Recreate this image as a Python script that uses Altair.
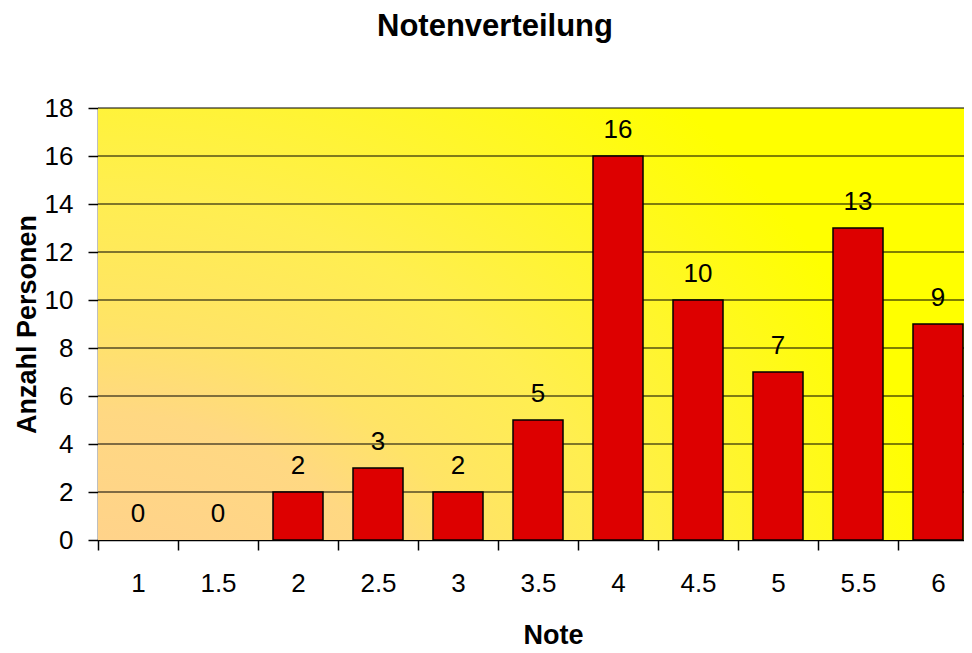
import altair as alt
import pandas as pd

notes = ["1", "1.5", "2", "2.5", "3", "3.5", "4", "4.5", "5", "5.5", "6"]
counts = [0, 0, 2, 3, 2, 5, 16, 10, 7, 13, 9]
y_ticks = [0, 2, 4, 6, 8, 10, 12, 14, 16, 18]
chart_title = "Notenverteilung"
x_title = "Note"
y_title = "Anzahl Personen"

W, H = 880, 432
FONT = "Liberation Sans"

df = pd.DataFrame({"Note": notes, "Anzahl": counts})
grid_df = pd.DataFrame({"Anzahl": y_ticks[1:]})
one_df = pd.DataFrame({"t": [chart_title]})

yscale = alt.Scale(domain=[0, 18], nice=False, zero=True)
xscale = alt.Scale(domain=notes, paddingInner=0, paddingOuter=0)

gradient = alt.RadialGradient(
    gradient="radial",
    x1=0, y1=1, r1=0,
    x2=0, y2=1, r2=1,
    stops=[
        alt.GradientStop(offset=0, color="#FFCA98"),
        alt.GradientStop(offset=0.4, color="#FFD882"),
        alt.GradientStop(offset=0.5, color="#FFE466"),
        alt.GradientStop(offset=0.65, color="#FFEE50"),
        alt.GradientStop(offset=1, color="#FFFF00"),
    ],
)

y_axis = alt.Axis(
    title=y_title,
    values=y_ticks,
    labelFontSize=26,
    labelColor="black",
    labelPadding=15,
    tickSize=10,
    tickColor="black",
    tickWidth=1.5,
    domainColor="black",
    domainWidth=1.5,
    titleFontSize=27,
    titleFontWeight="bold",
    titleColor="black",
    titleX=-71,
    titleY=H / 2,
    titleBaseline="middle",
    titleAlign="center",
    grid=False,
)

x_axis = alt.Axis(
    title=x_title,
    tickBand="extent",
    labelAngle=0,
    labelFontSize=26,
    labelColor="black",
    labelPadding=20,
    tickSize=10,
    tickColor="black",
    tickWidth=1.5,
    domainColor="black",
    domainWidth=1.5,
    titleFontSize=27,
    titleFontWeight="bold",
    titleColor="black",
    titleX=455,
    titleY=95,
    titleBaseline="middle",
    titleAlign="center",
    grid=False,
)

bg = alt.Chart(one_df).mark_rect(fill=gradient).encode(
    x=alt.value(0), x2=alt.value(W), y=alt.value(0), y2=alt.value(H)
)

grid = alt.Chart(grid_df).mark_rule(color="black", strokeWidth=1.2).encode(
    y=alt.Y("Anzahl:Q", scale=yscale, axis=y_axis),
    x=alt.value(0),
    x2=alt.value(W),
)

bars = alt.Chart(df).mark_bar(
    color="#DD0000", stroke="black", strokeWidth=1.5,
    width=alt.RelativeBandSize(0.625),
).encode(
    x=alt.X("Note:N", sort=notes, scale=xscale, axis=x_axis),
    y=alt.Y("Anzahl:Q", scale=yscale, axis=y_axis),
    strokeOpacity=alt.condition(alt.datum.Anzahl > 0, alt.value(1), alt.value(0)),
)

labels = alt.Chart(df).mark_text(
    baseline="bottom", dy=-13, fontSize=26, font=FONT, color="black"
).encode(
    x=alt.X("Note:N", sort=notes, scale=xscale, axis=x_axis),
    y=alt.Y("Anzahl:Q", scale=yscale, axis=y_axis),
    text="Anzahl:Q",
)

title_mark = alt.Chart(one_df).mark_text(
    fontSize=31, fontWeight="bold", font=FONT, color="black",
    align="center", baseline="alphabetic",
).encode(x=alt.value(397), y=alt.value(-72), text="t:N")

chart = alt.layer(bg, grid, bars, labels, title_mark).properties(
    width=W,
    height=H,
    autosize=alt.AutoSizeParams(type="none"),
    padding={"left": 90, "top": 100, "right": -14, "bottom": 110},
).configure(
    font=FONT,
).configure_view(
    stroke=None,
).configure_axis(
    labelFont=FONT, titleFont=FONT,
)

chart.save("out.html", embed_options={"renderer": "svg", "actions": False})
